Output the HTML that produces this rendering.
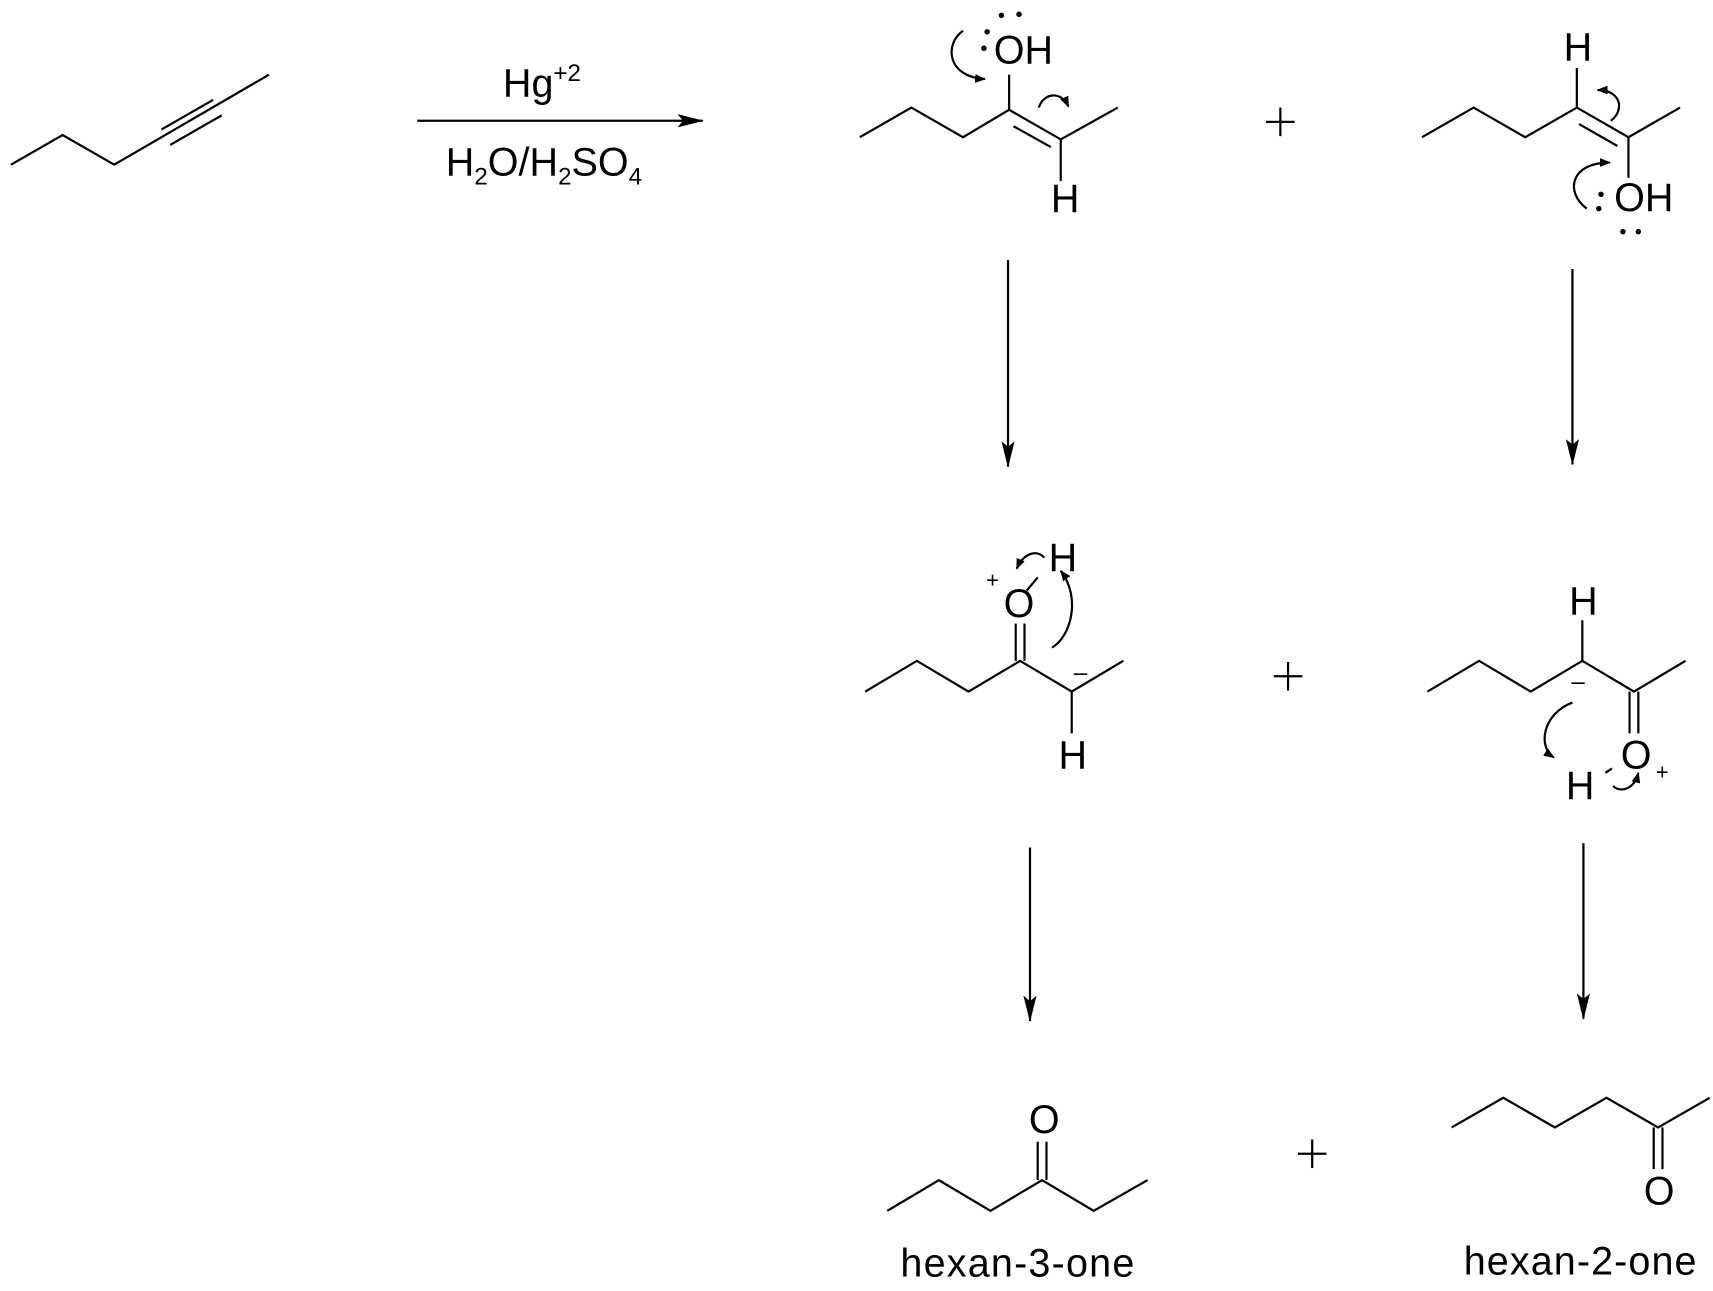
<!DOCTYPE html>
<html><head><style>
html,body{margin:0;padding:0;background:#fff;}
svg{display:block;}
text{font-family:"Liberation Sans",sans-serif;fill:#000;}
</style></head><body>
<svg width="1713" height="1291" viewBox="0 0 1560 1176" preserveAspectRatio="none" xmlns="http://www.w3.org/2000/svg">
<defs>
<marker id="ah" markerWidth="10" markerHeight="8" refX="9" refY="4" orient="auto" markerUnits="userSpaceOnUse"><path d="M0,0 L10,4 L0,8 Z" fill="#000"/></marker>
<marker id="big" markerWidth="24" markerHeight="12" refX="23" refY="6" orient="auto" markerUnits="userSpaceOnUse"><path d="M0,0 L24,6 L0,12 L5,6 Z" fill="#000"/></marker>
</defs>
<g stroke="#000" stroke-width="2" fill="none">
<polyline points="10,150 57,123 104,150 245,68"/>
<line x1="147" y1="118" x2="194" y2="91"/>
<line x1="155" y1="132" x2="202" y2="105"/>
<line x1="380" y1="110" x2="640" y2="110" marker-end="url(#big)"/>
<!-- enol 1 -->
<polyline points="783,125 830,98 877,125 919,100 966,127 1018,98"/>
<line x1="923" y1="115" x2="957" y2="134"/>
<line x1="919" y1="100" x2="919" y2="68"/>
<line x1="966" y1="127" x2="966" y2="165"/>
<path d="M877,28 C860,40 862,70 897,72" marker-end="url(#ah)"/>
<path d="M946,98 C950,85 966,82 973,97" marker-end="url(#ah)"/>
<!-- enol 2 -->
<polyline points="1295,125 1342,98 1389,125 1436,98 1483,125 1530,98"/>
<line x1="1438" y1="113" x2="1473" y2="133"/>
<line x1="1436" y1="98" x2="1436" y2="62"/>
<line x1="1483" y1="125" x2="1483" y2="162"/>
<path d="M1467,110 C1480,100 1476,82 1455,82" marker-end="url(#ah)"/>
<path d="M1445,190 C1425,175 1430,148 1466,148" marker-end="url(#ah)"/>
<line x1="918" y1="237" x2="918" y2="425" marker-end="url(#big)"/>
<line x1="1432" y1="245" x2="1432" y2="423" marker-end="url(#big)"/>
<!-- middle 1 -->
<polyline points="788,630 835,602 882,630 929,602 976,630 1023,602"/>
<line x1="925" y1="602" x2="925" y2="568"/>
<line x1="933" y1="602" x2="933" y2="568"/>
<line x1="935" y1="538" x2="945" y2="526"/>
<line x1="976" y1="630" x2="976" y2="668"/>
<path d="M951,508 C944,500 932,504 926,518" marker-end="url(#ah)"/>
<path d="M958,590 C975,580 985,545 966,520" marker-end="url(#ah)"/>
<!-- middle 2 -->
<polyline points="1300,630 1347,602 1394,630 1441,602 1488,630 1535,602"/>
<line x1="1441" y1="602" x2="1441" y2="565"/>
<line x1="1484" y1="630" x2="1484" y2="668"/>
<line x1="1492" y1="630" x2="1492" y2="668"/>
<line x1="1462" y1="704" x2="1468" y2="700"/>
<path d="M1432,640 C1405,650 1400,680 1415,690" marker-end="url(#ah)"/>
<path d="M1469,716 C1475,722 1488,720 1492,704" marker-end="url(#ah)"/>
<line x1="938" y1="772" x2="938" y2="930" marker-end="url(#big)"/>
<line x1="1442" y1="768" x2="1442" y2="928" marker-end="url(#big)"/>
<!-- bottom 1 -->
<polyline points="808,1103 855,1075 902,1103 949,1075 996,1103 1045,1075"/>
<line x1="945" y1="1075" x2="945" y2="1040"/>
<line x1="953" y1="1075" x2="953" y2="1040"/>
<!-- bottom 2 -->
<polyline points="1322,1027 1369,1000 1416,1027 1463,1000 1510,1027 1557,1000"/>
<line x1="1506" y1="1027" x2="1506" y2="1065"/>
<line x1="1514" y1="1027" x2="1514" y2="1065"/>
<line x1="1166" y1="98" x2="1166" y2="124"/><line x1="1153" y1="111" x2="1179" y2="111"/>
<line x1="1173" y1="603" x2="1173" y2="629"/><line x1="1160" y1="616" x2="1186" y2="616"/>
<line x1="1195" y1="1038" x2="1195" y2="1064"/><line x1="1182" y1="1051" x2="1208" y2="1051"/>
</g>
<g fill="#000">
<circle cx="899" cy="29" r="2.5"/><circle cx="896" cy="44" r="2.5"/>
<circle cx="912" cy="14" r="2.5"/><circle cx="928" cy="13" r="2.5"/>
<circle cx="1458" cy="177" r="2.5"/><circle cx="1456" cy="190" r="2.5"/>
<circle cx="1478" cy="211" r="2.5"/><circle cx="1492" cy="211" r="2.5"/>
</g>
<g font-size="36">
<text x="458" y="88">Hg<tspan font-size="22" dy="-14">+2</tspan></text>
<text x="406" y="160">H<tspan font-size="22" dy="8">2</tspan><tspan dy="-8">O/H</tspan><tspan font-size="22" dy="8">2</tspan><tspan dy="-8">SO</tspan><tspan font-size="22" dy="8">4</tspan></text>
<text x="905" y="58">OH</text>
<text x="957" y="193">H</text>
<text x="1424" y="55">H</text>
<text x="1470" y="192">OH</text>
<text x="914" y="562">O</text><text x="898" y="535" font-size="20">+</text>
<text x="955" y="520">H</text>
<text x="964" y="700">H</text>
<text x="978" y="620" font-size="22">–</text>
<text x="1429" y="560">H</text>
<text x="1431" y="628" font-size="22">–</text>
<text x="1476" y="700">O</text><text x="1508" y="710" font-size="20">+</text>
<text x="1426" y="728">H</text>
<text x="937" y="1032">O</text>
<text x="1497" y="1097">O</text>
<text x="820" y="1163" textLength="213">hexan-3-one</text>
<text x="1333" y="1161" textLength="212">hexan-2-one</text>
</g>
</svg>
</body></html>
